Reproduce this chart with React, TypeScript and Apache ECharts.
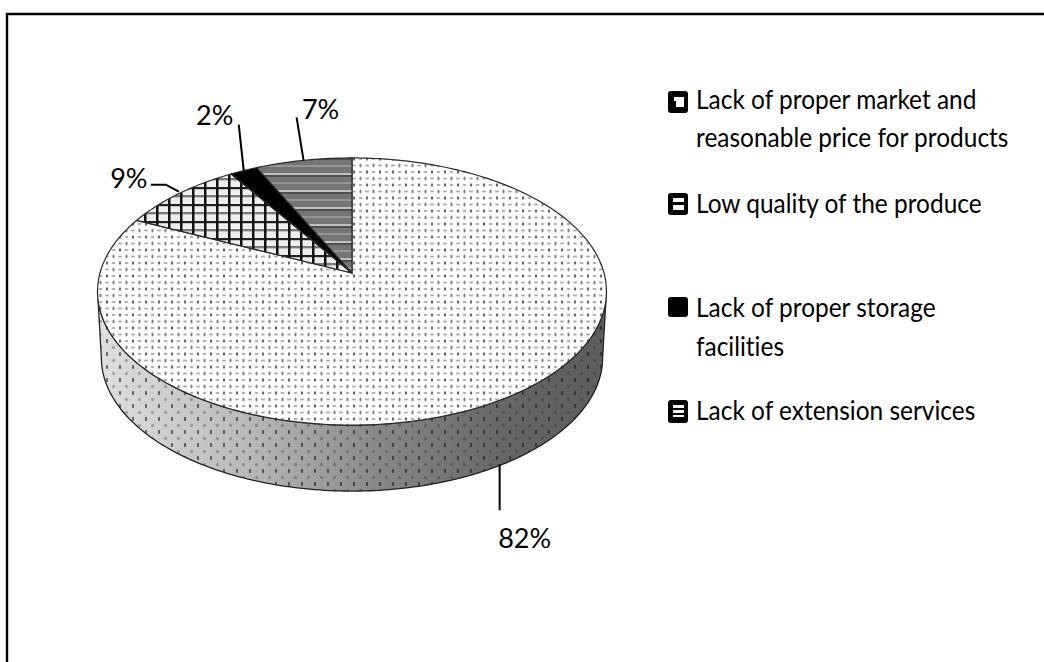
import React, { useEffect, useRef } from "react";
import * as echarts from "echarts";

// Answers in percent, in the order the wedges run clockwise from twelve o'clock.
const categories = [
  "Lack of proper market and reasonable price for products",
  "Low quality of the produce",
  "Lack of proper storage facilities",
  "Lack of extension services",
];
const percents = [82, 9, 2, 7];

// Legend text, one row per drawn line.
const legendLines = [
  { text: "Lack of proper market and", y: 99 },
  { text: "reasonable price for products", y: 137 },
  { text: "Low quality of the produce", y: 203 },
  { text: "Lack of proper storage", y: 307 },
  { text: "facilities", y: 346 },
  { text: "Lack of extension services", y: 410 },
];

// Swatches: black tile plus the white openings cut into it.
const swatches = [
  { y: 91, h: 22, holes: [[6, 6, 10, 4], [8, 10, 8, 6]] },
  { y: 193, h: 22, holes: [[5, 5, 11, 4], [5, 12, 11, 5]] },
  { y: 297, h: 20, holes: [] as number[][] },
  { y: 400, h: 23, holes: [[5, 5, 11, 3], [5, 10, 11, 3], [5, 15, 11, 2]] },
];

// Leader geometry per wedge, relative to the point on the rim at mid-angle.
const leaders = [
  { path: [[-3, 0], [-3, 46]], label: [22, 73] },
  { path: [[0, -2], [-13, -9], [-28, -9]], label: [-50, -16] },
  { path: [[0, 0], [-5, -46]], label: [-29, -56] },
  { path: [[0, 0], [-7, -43]], label: [17, -52] },
];

const FONT = "Lato";
const CX = 352;
const CY = 273;
const RX = 252;
const RY = 131;
const TILT = 0.1386;
const DEPTH = 66;
const BOTTOM_SCALE = 0.985;

// Perspective view of the disc; angle is in degrees clockwise from twelve o'clock.
function project(deg: number, depth = 0): [number, number] {
  const t = (deg * Math.PI) / 180;
  const u = Math.sin(t);
  const v = Math.cos(t);
  const w = 1 + TILT * v;
  const x = (RX * u) / w;
  const y = (-RY * v) / w;
  return depth ? [CX + x * BOTTOM_SCALE, CY + y + depth] : [CX + x, CY + y];
}

function arcPoints(from: number, to: number, depth = 0) {
  const pts: [number, number][] = [];
  const steps = Math.max(2, Math.ceil(Math.abs(to - from)));
  for (let i = 0; i <= steps; i++) pts.push(project(from + ((to - from) * i) / steps, depth));
  return pts;
}

function tile(w: number, h: number, draw: (c: CanvasRenderingContext2D) => void) {
  const canvas = document.createElement("canvas");
  canvas.width = w;
  canvas.height = h;
  draw(canvas.getContext("2d") as CanvasRenderingContext2D);
  return { image: canvas, repeat: "repeat", imageWidth: w, imageHeight: h };
}

function oval(c: CanvasRenderingContext2D, x: number, y: number, rx: number, ry: number, color: string) {
  c.fillStyle = color;
  c.beginPath();
  c.ellipse(x, y, rx, ry, 0, 0, Math.PI * 2);
  c.fill();
}

const dottedFill = () =>
  tile(13, 13, (c) => {
    c.fillStyle = "#fff";
    c.fillRect(0, 0, 13, 13);
    c.filter = "blur(0.5px)";
    oval(c, 3, 3, 1.2, 1.8, "#666");
    oval(c, 9.5, 3, 2, 1.1, "#a8a8a8");
    oval(c, 3, 9.5, 2, 1.1, "#a8a8a8");
    oval(c, 9.5, 9.5, 1.1, 1.9, "#808080");
  });

const wallDots = () =>
  tile(13, 13, (c) => {
    c.filter = "blur(0.5px)";
    oval(c, 3, 3, 1.1, 2.2, "rgba(20,20,20,0.6)");
    oval(c, 9.5, 9.5, 1.6, 1.8, "rgba(40,40,40,0.3)");
  });

const hatchFill = () =>
  tile(12, 17, (c) => {
    c.fillStyle = "#eee";
    c.fillRect(0, 0, 12, 17);
    c.fillStyle = "#c4c4c4";
    c.fillRect(0, 2, 12, 1);
    c.fillRect(0, 10, 12, 1);
    c.fillStyle = "#7a7a7a";
    c.fillRect(0, 8, 12, 2);
    c.fillStyle = "#222";
    c.fillRect(0, 0, 12, 2);
    c.fillStyle = "#111";
    c.fillRect(0, 0, 2.5, 17);
  });

const stripeFill = () =>
  tile(8, 17, (c) => {
    c.fillStyle = "#757575";
    c.fillRect(0, 0, 8, 17);
    c.fillStyle = "#c0c0c0";
    c.fillRect(0, 3, 8, 2);
    c.fillStyle = "#4f4f4f";
    c.fillRect(0, 5, 8, 2);
    c.fillStyle = "#959595";
    c.fillRect(0, 12, 8, 2);
  });

const legendGraphics = () => {
  const items: any[] = [
    {
      type: "polyline",
      silent: true,
      shape: { points: [[7, 670], [7, 14], [1050, 14]] },
      style: { stroke: "#000", lineWidth: 2.4, fill: "none" },
    },
  ];
  swatches.forEach((s) => {
    items.push({
      type: "rect",
      shape: { x: 668, y: s.y, width: 20, height: s.h, r: 3 },
      style: { fill: "#000" },
    });
    s.holes.forEach((h) =>
      items.push({
        type: "rect",
        shape: { x: 668 + h[0], y: s.y + h[1], width: h[2], height: h[3] },
        style: { fill: "#fff" },
      }),
    );
  });
  legendLines.forEach((l) =>
    items.push({
      type: "text",
      x: 696,
      y: l.y,
      scaleX: 0.94,
      style: { text: l.text, fill: "#000", font: `26px ${FONT}`, textVerticalAlign: "middle" },
    }),
  );
  return items;
};

export default function App() {
  const ref = useRef<HTMLDivElement>(null);

  useEffect(() => {
    const chart = echarts.init(ref.current as HTMLDivElement, undefined, { renderer: "svg" });
    const total = percents.reduce((a, b) => a + b, 0);
    const fills = [dottedFill(), hatchFill(), "#000", stripeFill()];
    const wallPattern = wallDots();

    const renderItem = (params: any, api: any) => {
      const i = params.dataIndex;
      const before = percents.slice(0, i).reduce((a, b) => a + b, 0);
      const start = (before / total) * 360;
      const end = start + (api.value(0) / total) * 360;
      const mid = (start + end) / 2;
      const children: any[] = [];

      // Visible rim: the part of the wedge between the disc's side extremes.
      const edge = (Math.acos(-TILT) * 180) / Math.PI;
      const a = Math.max(start, edge);
      const b = Math.min(end, 360 - edge);
      if (b > a) {
        const rim = [...arcPoints(a, b), ...arcPoints(b, a, DEPTH)];
        children.push({
          type: "polygon",
          shape: { points: rim },
          style: {
            fill: {
              type: "linear", x: 0, y: 0, x2: 1, y2: 0,
              colorStops: [
                { offset: 0, color: "#e0e0e0" },
                { offset: 0.3, color: "#b8b8b8" },
                { offset: 0.55, color: "#888" },
                { offset: 0.8, color: "#666" },
                { offset: 1, color: "#5c5c5c" },
              ],
            },
          },
        });
        children.push({
          type: "polygon",
          shape: { points: rim },
          style: { fill: wallPattern, stroke: "#222", lineWidth: 1.3 },
        });
      }

      children.push({
        type: "polygon",
        shape: { points: [[CX, CY], ...arcPoints(start, end)] },
        style: { fill: fills[i], stroke: "#2a2a2a", lineWidth: 1.2 },
      });

      const leader = leaders[i];
      const anchor = mid > 90 && mid < 270 ? project(mid, DEPTH) : project(mid);
      children.push({
        type: "polyline",
        shape: { points: leader.path.map((p) => [anchor[0] + p[0], anchor[1] + p[1]]) },
        style: { stroke: "#000", lineWidth: 2, fill: "none" },
      });
      children.push({
        type: "text",
        x: anchor[0] + leader.label[0],
        y: anchor[1] + leader.label[1],
        style: {
          text: `${api.value(0)}%`,
          fill: "#000",
          font: `27px ${FONT}`,
          textAlign: "center",
          textVerticalAlign: "middle",
        },
      });
      return { type: "group", children };
    };

    chart.setOption({
      animation: false,
      backgroundColor: "#fff",
      graphic: legendGraphics(),
      series: [
        {
          type: "custom",
          coordinateSystem: "none",
          renderItem,
          data: percents.map((value, i) => ({ name: categories[i], value: [value] })),
          encode: { value: 0 },
          silent: true,
        },
      ],
    });
    return () => chart.dispose();
  }, []);

  return (
    <div
      ref={ref}
      style={{
        position: "absolute",
        left: 0,
        top: 0,
        width: 1044,
        height: 662,
        background: "#fff",
        letterSpacing: "0.01px",
      }}
    />
  );
}
